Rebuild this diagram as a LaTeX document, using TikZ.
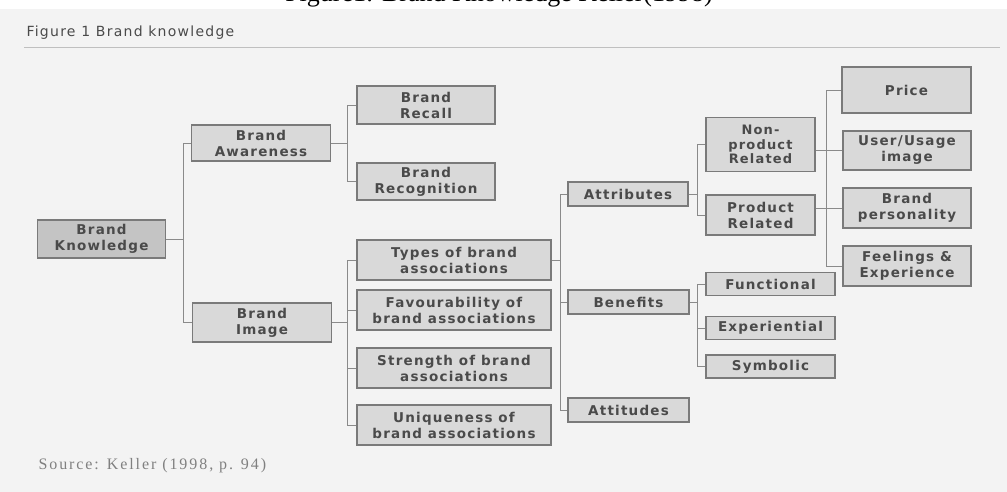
\documentclass[tikz,border=0pt]{standalone}
\usepackage{fontspec}
\setmainfont{Liberation Serif}
\newfontfamily\boxfont[LetterSpace=9]{DejaVu Sans}
\newfontfamily\hdfont[LetterSpace=9]{DejaVu Sans}
\newfontfamily\srcfont[LetterSpace=12]{Liberation Serif}
\definecolor{bgc}{HTML}{F3F3F3}
\definecolor{boxc}{HTML}{D9D9D9}
\definecolor{boxd}{HTML}{C4C4C4}
\definecolor{edgec}{HTML}{7A7A7A}
\definecolor{linec}{HTML}{8A8A8A}
\definecolor{txtc}{HTML}{4A4A4A}
\begin{document}
\begin{tikzpicture}[x=1pt,y=-1pt,
  bx/.style={draw=edgec,line width=1.1pt,fill=boxc,text=txtc,align=center,
    font=\boxfont\bfseries\fontsize{13.5}{16}\selectfont,inner sep=0pt},
  cn/.style={draw=linec,line width=0.9pt}]
\useasboundingbox (0,0) rectangle (1007,492);
\clip (0,0) rectangle (1007,492);
\fill[white] (0,0) rectangle (1007,9);
\fill[bgc] (0,9) rectangle (1007,492);
\node[anchor=base,font=\fontsize{26}{26}\selectfont] (cap) at (499,2) {Figure1: Brand Knowledge Keller(1998)};
\node[anchor=west,text=txtc,font=\hdfont\fontsize{14}{15}\selectfont] (hd) at (23,33) {Figure 1 Brand knowledge};
\coordinate (hl1) at (24,47);
\coordinate (hl2) at (1000,47);
\draw[draw=lightgray,line width=0.8pt] (hl1) -- (hl2);
\node[anchor=west,text=gray,font=\srcfont\fontsize{16}{17}\selectfont] (src) at (35,466) {Source: Keller (1998, p. 94)};
\newcommand{\bxat}[7][]{\node[bx,minimum width=#5,minimum height=#6,#1] (#2) at (#3,#4) {#7};}
\bxat[fill=boxd]{bk}{101.5}{239}{128pt}{38pt}{Brand\\Knowledge}
\bxat{ba}{261}{143}{139pt}{36pt}{Brand\\Awareness}
\bxat{bi}{262}{322.5}{139pt}{39pt}{Brand\\Image}
\bxat{br}{426}{105}{138pt}{38pt}{Brand\\Recall}
\bxat{brec}{426}{181.5}{138pt}{37pt}{Brand\\Recognition}
\bxat{t1}{454}{260}{194pt}{40pt}{Types of brand\\associations}
\bxat{t2}{454}{310}{194pt}{40pt}{Favourability of\\brand associations}
\bxat{t3}{454}{368}{194pt}{40pt}{Strength of brand\\associations}
\bxat{t4}{454}{425}{194pt}{40pt}{Uniqueness of\\brand associations}
\bxat{att}{628}{194}{120pt}{24pt}{Attributes}
\bxat{ben}{628.5}{302}{121pt}{24pt}{Benefits}
\bxat{atd}{628.5}{410}{121pt}{24pt}{Attitudes}
\bxat[font=\boxfont\bfseries\fontsize{13}{14.5}\selectfont]{np}{760.5}{144.5}{109pt}{54pt}{Non-\\product\\Related}
\bxat{pr}{760.5}{215}{109pt}{40pt}{Product\\Related}
\bxat{pri}{906.5}{90}{129pt}{46pt}{Price}
\bxat{uu}{907}{150.5}{128pt}{39pt}{User/Usage\\image}
\bxat{bp}{907}{208}{128pt}{40pt}{Brand\\personality}
\bxat{fe}{907}{266}{128pt}{40pt}{Feelings \&\\Experience}
\bxat{fu}{770.5}{284}{129pt}{23pt}{Functional}
\bxat{ex}{770.5}{328}{129pt}{23pt}{Experiential}
\bxat{sy}{770.5}{366.5}{129pt}{23pt}{Symbolic}
% junction x positions
\coordinate (j1) at (183,0);
\coordinate (j2) at (347,0);
\coordinate (j3) at (560,0);
\coordinate (j4) at (697,0);
\coordinate (j5) at (826,0);
% Brand Knowledge
\draw[cn] (bk.east) -- (bk.east -| j1);
\draw[cn] (ba.west) -| (j1 |- ba.west) |- (bi.west);
% Awareness
\draw[cn] (ba.east) -- (ba.east -| j2);
\draw[cn] (br.west) -| (j2 |- br.west) |- (brec.west);
% Image
\draw[cn] (bi.east) -- (bi.east -| j2);
\draw[cn] (t1.west) -| (j2 |- t1.west) |- (t4.west);
\draw[cn] (t2.west) -- (t2.west -| j2);
\draw[cn] (t3.west) -- (t3.west -| j2);
% Types
\draw[cn] (t1.east) -- (t1.east -| j3);
\draw[cn] (att.west) -| (j3 |- att.west) |- (atd.west);
\draw[cn] (ben.west) -- (ben.west -| j3);
% Attributes
\draw[cn] (att.east) -- (att.east -| j4);
\draw[cn] (np.west) -| (j4 |- np.west) |- (pr.west);
% Benefits
\draw[cn] (ben.east) -- (ben.east -| j4);
\draw[cn] (fu.west) -| (j4 |- fu.west) |- (sy.west);
\draw[cn] (ex.west) -- (ex.west -| j4);
% non-product / product
\draw[cn] (np.east |- uu.west) -- (uu.west);
\draw[cn] (pr.east |- bp.west) -- (bp.west);
\draw[cn] (pri.west) -| (j5 |- pri.west) |- (fe.west);
\end{tikzpicture}
\end{document}
